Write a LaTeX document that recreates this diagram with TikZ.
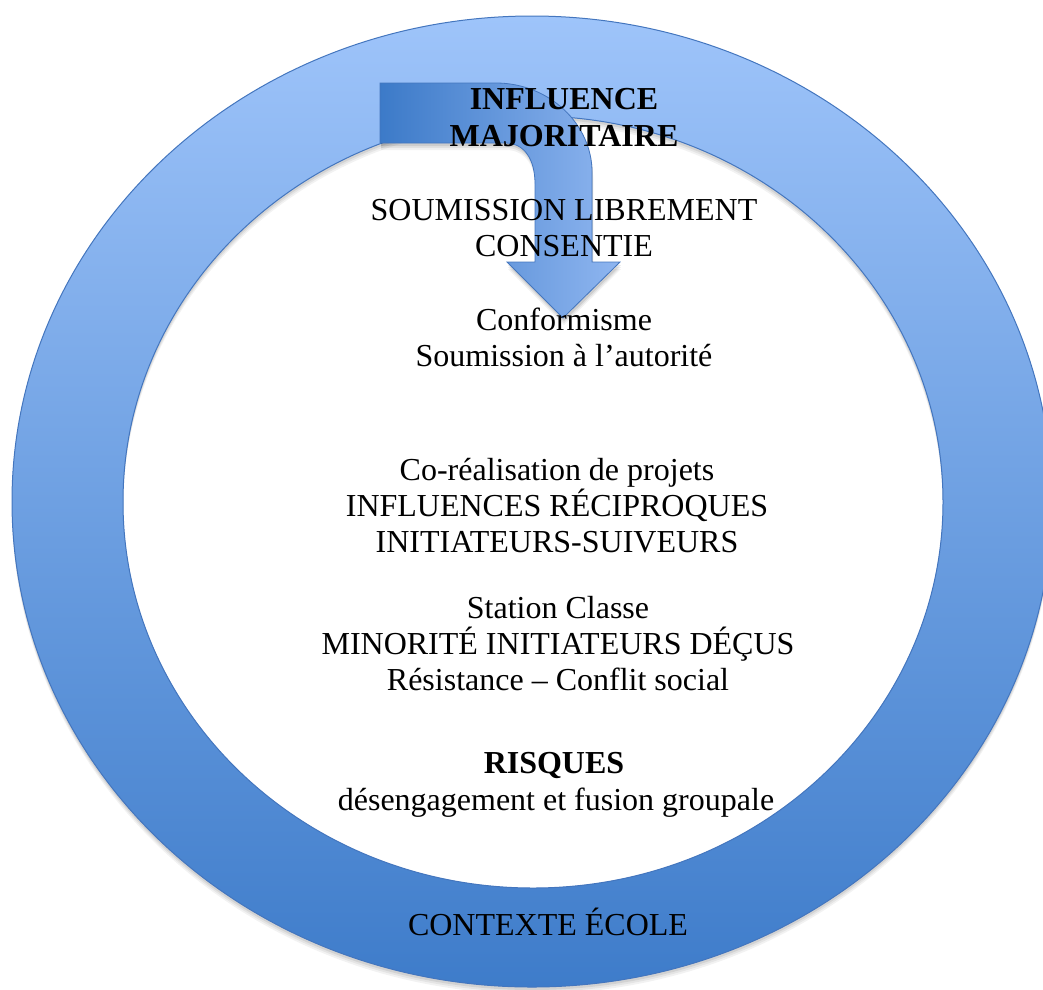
\documentclass[tikz,border=0pt]{standalone}
\usepackage{fontspec}
\setmainfont{Liberation Serif}
\definecolor{ringtop}{RGB}{158,196,250}
\definecolor{ringbot}{RGB}{62,124,202}
\definecolor{ringline}{RGB}{68,118,190}
\definecolor{arrdark}{RGB}{60,122,200}
\definecolor{arrlight}{RGB}{143,182,240}
\begin{document}
\begin{tikzpicture}[x=1pt,y=-1pt,
  txt/.style={font=\fontsize{32}{36}\selectfont, align=center, inner sep=0pt, anchor=base, text=black},
  ringfill/.style={top color=ringtop, bottom color=ringbot, even odd rule},
  arrfill/.style={left color=arrdark, middle color=arrlight, right color=arrlight}]
\useasboundingbox (0,0) rectangle (1043,989);
\begin{scope}
\clip (0,0) rectangle (1043,989);
% ring shadow
\foreach \d/\o in {7/0.05,5/0.06,3/0.08}{
  \fill[black, opacity=\o, even odd rule]
    (532,501.5+\d) ellipse [x radius=520pt, y radius=485.5pt]
    (533,502+\d) ellipse [x radius=410pt, y radius=386pt];
}
% ring
\shade[ringfill]
  (532,501.5) ellipse [x radius=520pt, y radius=485.5pt]
  (533,502) ellipse [x radius=410pt, y radius=386pt];
\draw[ringline, line width=1pt]
  (532,501.5) ellipse [x radius=520pt, y radius=485.5pt]
  (533,502) ellipse [x radius=410pt, y radius=386pt];
% arrow shadow
\foreach \d/\o in {7/0.05,5/0.07,3/0.09}{
  \fill[black, opacity=\o, shift={(1,\d)}]
    (380,83) -- (496,83) .. controls (549,83) and (592,124) .. (592,172)
    -- (592,262) -- (620,262) -- (563,318) -- (507,262) -- (535,262)
    -- (535,184) .. controls (535,160) and (525,143) .. (505,143)
    -- (380,143) -- cycle;
}
% arrow
\shade[arrfill]
    (380,83) -- (496,83) .. controls (549,83) and (592,124) .. (592,172)
    -- (592,262) -- (620,262) -- (563,318) -- (507,262) -- (535,262)
    -- (535,184) .. controls (535,160) and (525,143) .. (505,143)
    -- (380,143) -- cycle;
\draw[ringline, line width=0.8pt]
    (380,83) -- (496,83) .. controls (549,83) and (592,124) .. (592,172)
    -- (592,262) -- (620,262) -- (563,318) -- (507,262) -- (535,262)
    -- (535,184) .. controls (535,160) and (525,143) .. (505,143)
    -- (380,143) -- cycle;
\end{scope}
% texts (base anchor = baseline of last line)
\node[txt, font=\fontsize{32}{37}\selectfont\bfseries] (infl) at (564,146) {INFLUENCE\\MAJORITAIRE};
\node[txt] (soum) at (564,256) {SOUMISSION LIBREMENT\\CONSENTIE};
\node[txt] (conf) at (564,366) {Conformisme\\Soumission à l’autorité};
\node[txt] (corea) at (557,552) {Co-réalisation de projets\\INFLUENCES RÉCIPROQUES\\INITIATEURS-SUIVEURS};
\node[txt] (stat) at (558,690) {Station Classe\\MINORITÉ INITIATEURS DÉÇUS\\Résistance – Conflit social};
\node[txt, font=\fontsize{32}{37}\selectfont\bfseries] (risq) at (554,773) {RISQUES};
\node[txt] (deseng) at (556,810) {désengagement et fusion groupale};
\node[txt] (ctx) at (548,935) {CONTEXTE ÉCOLE};
\end{tikzpicture}
\end{document}
